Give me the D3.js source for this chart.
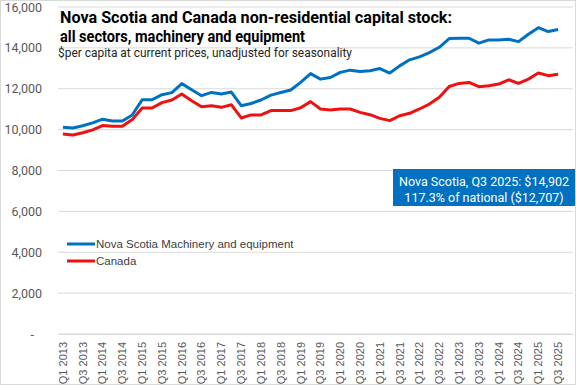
<!DOCTYPE html>
<html>
<head>
<meta charset="utf-8">
<script src="https://cdn.jsdelivr.net/npm/d3@7"></script>
<style>
  body { margin: 0; background: #fff; }
  svg { display: block; }
</style>
</head>
<body>
<svg id="chart"></svg>
<script>
// quarters Q1 2013 .. Q3 2025 (plus an empty Q4 2025 slot on the axis)
const years = d3.range(2013, 2026);
const quarters = [];
years.forEach(y => [1, 2, 3, 4].forEach(q => quarters.push("Q" + q + " " + y)));

const novaScotia = [
  10120, 10080, 10190, 10330, 10510, 10420, 10420, 10720,
  11460, 11460, 11710, 11810, 12250, 11950, 11660, 11820,
  11740, 11840, 11170, 11280, 11450, 11690, 11820, 11940,
  12310, 12740, 12470, 12550, 12800, 12910, 12845, 12880,
  12990, 12770, 13120, 13415, 13560, 13770, 14030, 14455,
  14470, 14470, 14230, 14390, 14390, 14420, 14305, 14670,
  14990, 14800, 14902
];
const canada = [
  9790, 9740, 9850, 9990, 10200, 10160, 10160, 10490,
  11060, 11060, 11320, 11450, 11740, 11410, 11120, 11170,
  11090, 11220, 10570, 10720, 10720, 10930, 10930, 10930,
  11070, 11370, 11010, 10960, 11010, 11010, 10845, 10730,
  10550, 10440, 10680, 10800, 11010, 11250, 11580, 12110,
  12260, 12310, 12100, 12150, 12230, 12440, 12260, 12470,
  12770, 12640, 12707
];
const yTicks = [0, 2000, 4000, 6000, 8000, 10000, 12000, 14000, 16000];

const seriesNames = ["Nova Scotia Machinery and equipment", "Canada"];
const seriesColors = ["#0070C0", "#EE1111"];

const width = 576, height = 385;
const margin = { left: 58, right: 3, top: 7, bottom: 51 };

const svg = d3.select("#chart").attr("width", width).attr("height", height);

// border
svg.append("rect")
  .attr("x", 0.5).attr("y", 0.5)
  .attr("width", width - 1).attr("height", height - 1)
  .attr("fill", "none").attr("stroke", "#d9d9d9");

const x = d3.scaleBand()
  .domain(quarters)
  .range([margin.left, width - margin.right]);

const y = d3.scaleLinear()
  .domain([0, 16000])
  .range([height - margin.bottom, margin.top]);

// grid
svg.append("g")
  .selectAll("line")
  .data(yTicks)
  .enter().append("line")
  .attr("x1", margin.left).attr("x2", width - margin.right)
  .attr("y1", d => y(d)).attr("y2", d => y(d))
  .attr("stroke", "#d9d9d9").attr("stroke-width", 1);

// y axis
const yAxis = svg.append("g")
  .attr("transform", "translate(" + (margin.left - 13) + ",0)")
  .call(d3.axisLeft(y).tickValues(yTicks).tickSize(0)
    .tickFormat(d => d === 0 ? "-" : d3.format(",")(d)));
yAxis.select(".domain").remove();
yAxis.selectAll("text")
  .attr("font-family", "Roboto, 'Open Sans', sans-serif")
  .attr("font-size", "12.5px")
  .attr("fill", "#595959")
  .attr("dx", d => d === 0 ? -8 : 0);

// x axis labels (every other quarter)
const xAxis = svg.append("g")
  .attr("transform", "translate(0," + (height - margin.bottom) + ")")
  .call(d3.axisBottom(x).tickSize(0)
    .tickValues(quarters.filter((q, i) => i % 2 === 0 && i < 51)));
xAxis.select(".domain").attr("stroke", "#d9d9d9");
xAxis.selectAll("text")
  .attr("font-family", "'Liberation Sans', Arial, sans-serif")
  .attr("font-size", "11px")
  .attr("fill", "#595959")
  .attr("transform", "rotate(-90)")
  .attr("text-anchor", "end")
  .attr("x", -8)
  .attr("y", 0)
  .attr("dy", "0.35em");

// lines
const line = d3.line()
  .x((d, i) => x(quarters[i]) + x.bandwidth() / 2)
  .y(d => y(d));

[novaScotia, canada].slice().reverse().forEach((s, k) => {
  svg.append("path")
    .datum(s)
    .attr("fill", "none")
    .attr("stroke", seriesColors[1 - k])
    .attr("stroke-width", 3)
    .attr("stroke-linejoin", "round")
    .attr("d", line);
});

// title
const title = svg.append("g").attr("font-family", "Roboto, 'Open Sans', sans-serif");
title.append("text")
  .attr("x", 60).attr("y", 23)
  .attr("font-size", "16.5px").attr("font-weight", "bold").attr("fill", "#000")
  .attr("textLength", 392).attr("lengthAdjust", "spacingAndGlyphs")
  .text("Nova Scotia and Canada non-residential capital stock:");
title.append("text")
  .attr("x", 60).attr("y", 42)
  .attr("font-size", "16.5px").attr("font-weight", "bold").attr("fill", "#000")
  .attr("textLength", 245).attr("lengthAdjust", "spacingAndGlyphs")
  .text("all sectors, machinery and equipment");
title.append("text")
  .attr("x", 58).attr("y", 57)
  .attr("font-size", "13px").attr("fill", "#262626")
  .attr("textLength", 294).attr("lengthAdjust", "spacingAndGlyphs")
  .text("$per capita at current prices, unadjusted for seasonality");

// legend
const legend = svg.append("g");
seriesNames.forEach((name, i) => {
  const ly = 244 + i * 17;
  legend.append("line")
    .attr("x1", 67).attr("x2", 95).attr("y1", ly).attr("y2", ly)
    .attr("stroke", seriesColors[i]).attr("stroke-width", 3);
  legend.append("text")
    .attr("x", 96).attr("y", ly).attr("dy", "0.35em")
    .attr("font-family", "'Liberation Sans', Arial, sans-serif")
    .attr("font-size", "11.5px").attr("fill", "#404040")
    .text(name);
});

// annotation box
const lastNS = novaScotia[novaScotia.length - 1];
const lastCA = canada[canada.length - 1];
const ann = svg.append("g");
ann.append("rect")
  .attr("x", 393).attr("y", 169)
  .attr("width", 182).attr("height", 37)
  .attr("fill", "#0070C0");
ann.append("text")
  .attr("x", 484).attr("y", 186)
  .attr("text-anchor", "middle")
  .attr("font-family", "Roboto, 'Open Sans', sans-serif")
  .attr("font-size", "12.5px").attr("fill", "#fff")
  .text("Nova Scotia, Q3 2025: $" + d3.format(",")(lastNS));
ann.append("text")
  .attr("x", 484).attr("y", 202)
  .attr("text-anchor", "middle")
  .attr("font-family", "Roboto, 'Open Sans', sans-serif")
  .attr("font-size", "12.5px").attr("fill", "#fff")
  .text(d3.format(".1f")(lastNS / lastCA * 100) + "% of national ($" + d3.format(",")(lastCA) + ")");
</script>
</body>
</html>
